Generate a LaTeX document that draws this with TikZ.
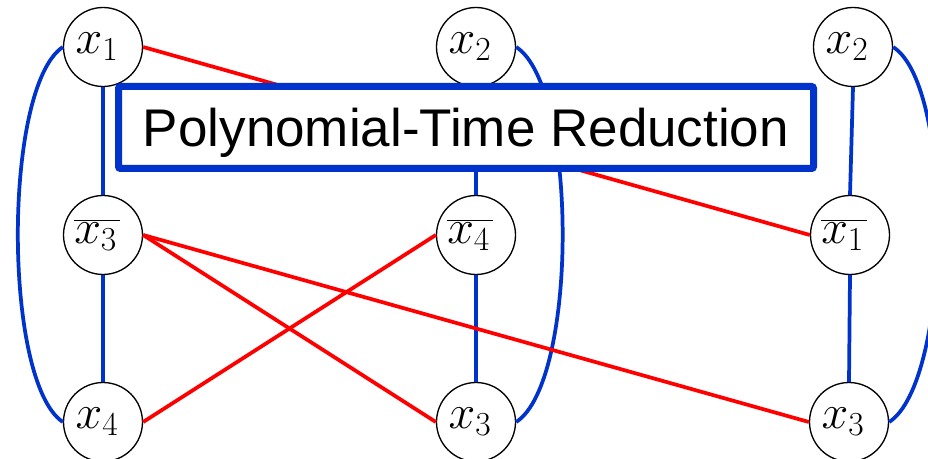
\documentclass[tikz,border=0pt]{standalone}
\usepackage{fix-cm}
\usepackage{fontspec}
\setmainfont{Liberation Sans}
\definecolor{eblue}{RGB}{0,51,204}
\definecolor{ered}{RGB}{255,0,0}
\newcommand{\neglit}[1]{\overline{#1\mkern1mu}}
\tikzset{
  vnode/.style={circle, draw=black, line width=1pt, fill=white, minimum size=59.25pt, inner sep=0pt,
    font=\fontsize{36}{42}\selectfont, execute at begin node={\kern-9pt}},
  bedge/.style={draw=eblue, line width=2.8pt},
  redge/.style={draw=ered, line width=2.8pt},
  titlebox/.style={draw=eblue, line width=5.25pt, fill=white, rounded corners=1.5pt,
    minimum width=521.25pt, minimum height=61.5pt, inner sep=0pt,
    text height=28.5pt, text depth=0pt, font=\fontsize{39.75}{44}\selectfont}
}
\begin{document}
\begin{tikzpicture}[x=0.75pt,y=-0.75pt]
\path[use as bounding box, clip] (0,0) rectangle (928,459);
\fill[white] (0,0) rectangle (928,459);
% nodes
\node[vnode] (x1)  at (103,47)  {$x_1$};
\node[vnode] (x2)  at (476,47)  {$x_2$};
\node[vnode] (x2r) at (853,47)  {$x_2$};
\node[vnode] (n3)  at (103,235) {$\neglit{x_3}$};
\node[vnode] (n4)  at (476,235) {$\neglit{x_4}$};
\node[vnode] (n1)  at (850,235) {$\neglit{x_1}$};
\node[vnode] (x4)  at (103,422) {$x_4$};
\node[vnode] (x3)  at (476,422) {$x_3$};
\node[vnode] (x3r) at (849,422) {$x_3$};
% blue edges
\draw[bedge] (x1.south) -- (n3.north);
\draw[bedge] (n3.south) -- (x4.north);
\draw[bedge] (x2.south) -- (n4.north);
\draw[bedge] (n4.south) -- (x3.north);
\draw[bedge] (x2r.south) -- (n1.north);
\draw[bedge] (n1.south) -- (x3r.north);
\draw[bedge] (x1.west) .. controls +(-60,40) and +(-60,-40) .. (x4.west);
\draw[bedge] (x2.east) .. controls +(62,40) and +(62,-40) .. (x3.east);
\draw[bedge] (x2r.east) .. controls +(62,40) and +(62,-40) .. (x3r.east);
% red edges
\draw[redge] (x1.east) -- (n1.west);
\draw[redge] (n3.east) -- (x3.west);
\draw[redge] (n3.east) -- (x3r.west);
\draw[redge] (x4.east) -- (n4.west);
% title box
\node[titlebox] (title) at (466,127.5) {Polynomial-Time Reduction};
\end{tikzpicture}
\end{document}
